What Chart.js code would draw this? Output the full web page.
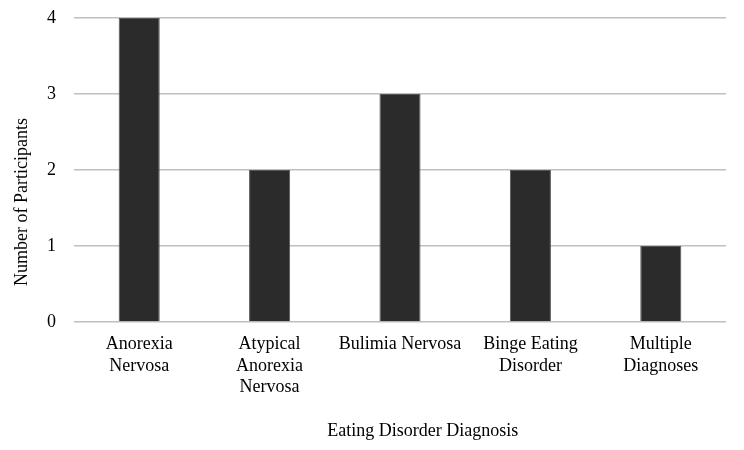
<!DOCTYPE html>
<html>
<head>
<meta charset="utf-8">
<script src="https://cdn.jsdelivr.net/npm/chart.js@4"></script>
<style>
  html, body { margin: 0; padding: 0; background: #fff; }
  #wrap { width: 744px; height: 450px; }
</style>
</head>
<body>
<div id="wrap"><canvas id="myChart"></canvas></div>
<script>
// Chart data
var categories = [
    ["Anorexia", "Nervosa"],
    ["Atypical", "Anorexia", "Nervosa"],
    "Bulimia Nervosa",
    ["Binge Eating", "Disorder"],
    ["Multiple", "Diagnoses"]
];
var participants = [4, 2, 3, 2, 1];
var yTicks = [0, 1, 2, 3, 4];
var xTitle = "Eating Disorder Diagnosis";
var yTitle = "Number of Participants";

var serif = "'Liberation Serif', 'Times New Roman', serif";

// Axis titles sit off-centre in the original, so draw them ourselves
const axisTitles = {
    id: "axisTitles",
    afterDraw(chart) {
        const ctx = chart.ctx;
        const area = chart.chartArea;
        ctx.save();
        ctx.fillStyle = "#000";
        ctx.font = "18px " + serif;
        ctx.textAlign = "center";
        ctx.textBaseline = "middle";
        ctx.fillText(xTitle, area.left + (area.right - area.left) * 0.535, 431);
        ctx.translate(22, area.top + (area.bottom - area.top) * 0.605);
        ctx.rotate(-Math.PI / 2);
        ctx.fillText(yTitle, 0, 0);
        ctx.restore();
    }
};

const config = {
    type: "bar",
    data: {
        labels: categories,
        datasets: [{
            label: yTitle,
            data: participants,
            backgroundColor: "#2b2b2b",
            borderColor: "#555555",
            borderWidth: 1,
            categoryPercentage: 1,
            barPercentage: 0.315
        }]
    },
    options: {
        responsive: true,
        maintainAspectRatio: false,
        animation: false,
        layout: { padding: { top: 18, right: 18, left: 0, bottom: 0 } },
        plugins: {
            legend: { display: false },
            tooltip: { enabled: false }
        },
        scales: {
            x: {
                grid: { display: false, drawTicks: false },
                border: { display: false },
                ticks: {
                    color: "#000",
                    font: { family: serif, size: 18, lineHeight: 1.18 },
                    padding: 12,
                    maxRotation: 0,
                    autoSkip: false
                },
                afterFit: function (axis) { axis.height = 128; }
            },
            y: {
                min: 0,
                max: 4,
                afterBuildTicks: function (axis) {
                    axis.ticks = yTicks.map(v => ({ value: v }));
                },
                grid: { color: "#bfbfbf", lineWidth: 1.5, drawTicks: false },
                border: { display: false },
                ticks: {
                    color: "#000",
                    font: { family: serif, size: 18 },
                    padding: 18
                },
                afterFit: function (axis) {
                    axis.width = 74;
                    axis.paddingTop = 0;
                    axis.paddingBottom = 0;
                }
            }
        }
    },
    plugins: [axisTitles]
};

var myChart = new Chart(document.getElementById("myChart"), config);
</script>
</body>
</html>
